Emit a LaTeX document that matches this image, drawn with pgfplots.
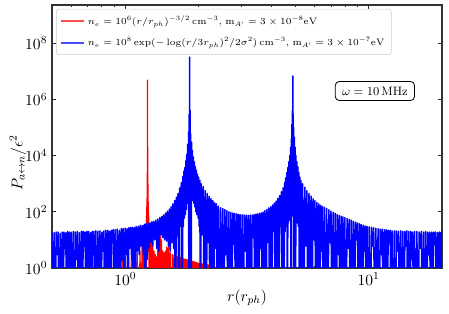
\RequirePackage{fix-cm}
\documentclass[border=0pt]{standalone}
\usepackage{pgfplots}
\pgfplotsset{compat=1.18}
\usepackage{pgfplotstable}

\pgfplotstableread{
r P
0.927 1e-3
0.940 1.6
0.955 1e-3
0.975 2.2
0.990 1e-3
1.000 2.6
1.012 1e-3
1.030 1.8
1.045 1e-3
1.060 2.5
1.075 1e-3
1.090 3
1.105 1e-3
1.120 3.5
1.135 1e-3
1.150 4
1.162 1e-3
1.172 9
1.178 1e-3
1.183 10
1.189 1e-3
1.195 20
1.201 1e-3
1.207 30
1.212 1e-3
1.2190 1e-3
1.2205 40
1.2215 25
1.2225 70
1.2235 25
1.2245 95
1.2255 30
1.2265 150
1.2275 40
1.2285 300
1.2295 60
1.2306 1000
1.2315 100
1.2325 3000
1.2335 2e4
1.2343 300
1.2350 4.9e6
1.2357 300
1.2365 2e4
1.2375 3000
1.2385 100
1.2394 1000
1.2405 60
1.2415 300
1.2425 40
1.2435 150
1.2445 30
1.2455 95
1.2465 25
1.2475 70
1.2485 25
1.2495 40
1.2520 1e-3
1.255 40
1.260 1e-3
1.266 25
1.272 1e-3
1.280 15
1.288 1e-3
1.297 8
1.305 1e-3
1.313 4
1.321 1e-3
1.329 3
1.337 1e-3
1.345 2.5
1.353 1e-3
1.361 8
1.367 1e-3
1.372 13
1.378 1e-3
1.384 12
1.390 1e-3
1.396 14
1.402 1e-3
1.408 10
1.416 1e-3
1.424 4
1.432 1e-3
1.440 3.5
1.450 1e-3
1.460 4
1.470 1e-3
1.480 5.6
1.487 1e-3
1.494 5
1.502 1e-3
1.510 5.6
1.520 1e-3
1.530 3.5
1.545 1e-3
1.560 3
1.575 0.3
1.585 2.9
1.595 0.3
1.605 2.8
1.615 0.3
1.625 2.7
1.635 0.3
1.645 2.6
1.655 0.3
1.665 2.5
1.675 0.3
1.685 2.4
1.695 0.3
1.705 2.3
1.715 0.3
1.725 2.2
1.735 0.3
1.745 2.1
1.755 0.3
1.765 2.05
1.775 0.3
1.785 2.0
1.795 0.3
1.805 1.95
1.815 0.3
1.825 1.9
1.835 0.3
1.845 1.85
1.855 0.3
1.865 1.8
1.875 0.3
1.885 1.75
1.895 0.3
1.905 1.7
1.915 0.3
1.925 1.65
1.935 0.3
1.945 1.6
1.955 0.3
1.965 1.55
1.975 0.3
1.985 1.5
1.995 0.3
2.005 1.48
2.015 0.3
2.025 1.45
2.035 0.3
2.050 1.42
2.065 0.3
2.080 1.4
2.095 0.3
2.110 1.35
2.125 0.3
2.140 1.32
2.155 0.3
2.170 1.3
2.185 0.3
2.200 1.28
2.220 0.3
2.240 1.25
2.260 0.3
2.280 1.2
2.300 0.3
}\redtable

\pgfplotstableread{
r P
0.500 19
0.505 1e-3
0.510 18
0.515 1e-3
0.520 19
0.525 3
0.530 19
0.535 1e-3
0.540 17
0.545 1e-3
0.550 19
0.555 1e-3
0.560 19
0.565 5
0.570 18
0.575 1e-3
0.580 20
0.585 1e-3
0.590 19
0.595 1e-3
0.600 19
0.606 1e-3
0.612 20
0.618 1e-3
0.624 19
0.630 2
0.636 20
0.642 1e-3
0.648 18
0.654 1e-3
0.660 20
0.666 1e-3
0.672 20
0.678 6
0.684 19
0.690 1e-3
0.696 20
0.702 1e-3
0.708 20
0.714 1e-3
0.720 18
0.726 1e-3
0.732 20
0.738 3
0.744 20
0.750 1e-3
0.7575 21
0.765 1e-3
0.7725 20
0.780 1e-3
0.7875 21
0.795 1e-3
0.8025 19
0.810 4
0.8175 21
0.825 1e-3
0.8325 22
0.840 1e-3
0.8475 22
0.855 1e-3
0.8625 20
0.870 1e-3
0.8775 22
0.885 8
0.8925 23
0.900 1e-3
0.909 23
0.918 1e-3
0.927 24
0.936 1e-3
0.945 22
0.954 1e-3
0.963 25
0.972 2
0.981 25
0.990 1e-3
0.999 26
1.008 3
1.017 25
1.026 1e-3
1.035 27
1.044 5
1.053 28
1.062 2
1.071 28
1.080 1e-3
1.089 27
1.098 1e-3
1.109 30
1.120 4
1.131 31
1.142 3
1.153 33
1.164 6
1.175 32
1.186 3
1.197 36
1.208 1e-3
1.219 37
1.230 2
1.241 39
1.252 5
1.263 40
1.274 8
1.285 44
1.296 6
1.309 46
1.322 10
1.335 51
1.348 5
1.361 55
1.374 4
1.387 62
1.400 15
1.413 68
1.426 12
1.439 78
1.452 10
1.465 90
1.478 9
1.491 105
1.504 6
1.517 125
1.530 4
1.543 150
1.556 8
1.569 190
1.582 5
1.595 250
1.608 1e-3
1.621 330
1.634 15
1.647 450
1.660 1e-3
1.673 700
1.686 30
1.699 1100
1.712 1e-3
1.725 1800
1.733 30
1.741 2800
1.749 60
1.757 3800
1.765 80
1.773 6500
1.781 120
1.789 1.1e4
1.797 200
1.805 2.5e4
1.813 300
1.820 7e4
1.826 1e-3
1.831 3e5
1.835 500
1.839 3.2e7
1.843 500
1.847 4e5
1.852 400
1.858 6e4
1.865 1e-3
1.872 3e4
1.880 350
1.888 1.5e4
1.896 250
1.904 9e3
1.913 200
1.922 6e3
1.931 150
1.940 4e3
1.950 100
1.960 3e3
1.970 80
1.980 2.2e3
1.991 60
2.002 1.7e3
2.013 30
2.024 1.3e3
2.036 1e-3
2.050 1e3
2.070 15
2.090 800
2.110 1e-3
2.130 570
2.150 1e-3
2.170 450
2.190 8
2.210 360
2.230 1e-3
2.250 300
2.270 1e-3
2.290 250
2.310 1e-3
2.330 210
2.350 5
2.370 190
2.390 1e-3
2.415 160
2.440 1e-3
2.465 140
2.490 1e-3
2.515 130
2.540 1e-3
2.565 120
2.590 3
2.615 110
2.640 1e-3
2.665 100
2.690 1e-3
2.715 94
2.740 1e-3
2.765 90
2.790 7
2.815 88
2.840 1e-3
2.865 84
2.890 1e-3
2.915 80
2.940 1e-3
2.965 79
2.990 1e-3
3.020 78
3.050 1e-3
3.080 77
3.110 4
3.140 76
3.170 1e-3
3.200 75
3.230 1e-3
3.260 76
3.290 1e-3
3.320 77
3.350 12
3.380 79
3.410 1e-3
3.440 82
3.470 1e-3
3.500 85
3.530 1e-3
3.560 87
3.590 5
3.620 92
3.650 1e-3
3.680 97
3.715 1e-3
3.750 110
3.785 1e-3
3.820 122
3.855 8
3.890 138
3.925 1e-3
3.960 152
3.995 1e-3
4.030 175
4.065 20
4.100 205
4.135 1e-3
4.170 240
4.205 1e-3
4.240 300
4.275 1e-3
4.310 380
4.345 30
4.380 520
4.415 1e-3
4.450 720
4.485 1e-3
4.510 1100
4.535 20
4.560 1600
4.585 30
4.610 2500
4.635 1e-3
4.660 3800
4.680 40
4.700 6000
4.720 50
4.740 1e4
4.760 60
4.778 2e4
4.795 1e-3
4.810 4e4
4.825 70
4.838 1.3e5
4.850 80
4.862 4e5
4.872 80
4.880 6.8e6
4.888 80
4.897 3e5
4.908 1e-3
4.920 1e5
4.935 70
4.950 4.5e4
4.968 60
4.985 2e4
5.005 1e-3
5.025 1e4
5.045 50
5.070 6e3
5.095 40
5.120 4e3
5.145 30
5.170 2.5e3
5.195 1e-3
5.220 1.7e3
5.245 20
5.270 1.3e3
5.300 1e-3
5.355 1000
5.410 1e-3
5.465 750
5.520 6
5.575 560
5.630 1e-3
5.685 450
5.740 1e-3
5.795 360
5.850 1e-3
5.905 290
5.960 10
6.015 250
6.070 1e-3
6.125 215
6.180 1e-3
6.235 190
6.290 1e-3
6.345 170
6.400 4
6.455 155
6.510 1e-3
6.580 145
6.650 1e-3
6.720 132
6.790 1e-3
6.860 118
6.930 8
7.000 106
7.070 1e-3
7.140 96
7.210 1e-3
7.280 88
7.350 1e-3
7.420 80
7.490 3
7.560 74
7.630 1e-3
7.700 70
7.770 1e-3
7.840 66
7.910 1e-3
7.980 62
8.065 1e-3
8.150 58
8.235 5
8.320 54
8.405 1e-3
8.490 50
8.575 1e-3
8.660 46
8.745 1e-3
8.830 43
8.915 10
9.000 40
9.085 1e-3
9.170 37
9.255 1e-3
9.340 35
9.425 1e-3
9.510 33
9.595 4
9.680 31
9.765 1e-3
9.850 30
9.935 1e-3
10.045 29
10.155 1e-3
10.265 28
10.375 6
10.485 27
10.595 1e-3
10.705 26
10.815 1e-3
10.925 25
11.035 1e-3
11.145 24
11.255 3
11.365 24
11.475 1e-3
11.585 23
11.695 1e-3
11.805 23
11.915 1e-3
12.025 22
12.135 8
12.245 22
12.355 1e-3
12.465 21
12.600 1e-3
12.735 21
12.870 1e-3
13.005 21
13.140 4
13.275 20
13.410 1e-3
13.545 21
13.680 1e-3
13.815 20
13.950 1e-3
14.085 20
14.220 6
14.355 21
14.490 1e-3
14.625 20
14.760 1e-3
14.895 20
15.030 2
15.165 19
15.300 1e-3
15.435 20
15.605 1e-3
15.775 20
15.945 1e-3
16.115 19
16.285 5
16.455 20
16.625 1e-3
16.795 19
16.965 1e-3
17.135 20
17.305 1e-3
17.475 19
17.645 3
17.815 19
17.985 1e-3
18.155 19
18.325 1e-3
18.495 19
18.665 7
18.835 19
19.005 1e-3
19.175 18
19.345 1e-3
19.515 19
19.685 1e-3
19.855 19
20.025 4
20.195 19
20.365 1e-3
}\bluetable

\newcommand{\legfont}{\fontsize{6.9}{8.2}\selectfont}

\begin{document}
\begin{tikzpicture}
\begin{axis}[
  at={(0pt,0pt)}, anchor=south west,
  scale only axis, width=288.9pt, height=194.8pt,
  xmode=log, ymode=log,
  xmin=0.5, xmax=20, ymin=1, ymax=2.3e9,
  xtick={1,10},
  minor xtick={0.5,0.6,0.7,0.8,0.9,2,3,4,5,6,7,8,9,20},
  ytick={1,1e2,1e4,1e6,1e8},
  yminorticks=false,
  tick align=inside,
  major tick length=3.2pt, minor tick length=1.7pt,
  every tick/.style={black!85, line width=0.7pt},
  axis line style={black!80, line width=1pt},
  tick label style={font=\fontsize{11.5}{13}\selectfont},
  xlabel={$r(r_{ph})$},
  ylabel={$P_{a\leftrightarrow n}/\epsilon^2$},
  label style={font=\fontsize{11.5}{13}\selectfont},
  xlabel style={at={(axis description cs:0.5,-0.114)}, anchor=center},
  ylabel style={at={(axis description cs:-0.0872,0.40)}, anchor=center},
  legend style={at={(rel axis cs:0.0103,0.985)}, anchor=north west,
    draw=black!20, rounded corners=2pt,
    fill=white, fill opacity=0.85, text opacity=1, draw opacity=1, row sep=4pt,
    inner xsep=3pt, inner ysep=3pt},
  legend cell align=left,
]
\addlegendimage{red!70, line width=1.3pt, opacity=1}
\addlegendentry{\legfont $n_e=10^6(r/r_{ph})^{-3/2}\,\mathrm{cm}^{-3}$, $\mathrm{m}_{A'}=3\times10^{-8}\mathrm{eV}$}
\addlegendimage{blue!70, line width=1.3pt, opacity=1}
\addlegendentry{\legfont $n_e=10^8\exp(-\log(r/3r_{ph})^2/2\sigma^2)\,\mathrm{cm}^{-3}$, $\mathrm{m}_{A'}=3\times10^{-7}\mathrm{eV}$}
\addplot[red, line width=0.9pt, line join=round, forget plot] table[x=r, y=P] {\redtable};
\addplot[blue, line width=1.1pt, line join=round, forget plot] table[x=r, y=P] {\bluetable};
\node[draw=black, rounded corners=3pt, fill=white, font=\small, inner xsep=5pt, inner ysep=4pt, line width=0.6pt] at (rel axis cs:0.828,0.673) {$\omega=10\,\mathrm{MHz}$};
\end{axis}
\pgfresetboundingbox
\path[use as bounding box] (-38.5pt,-34.1pt) rectangle (294.1pt,198.5pt);
\end{tikzpicture}
\end{document}
